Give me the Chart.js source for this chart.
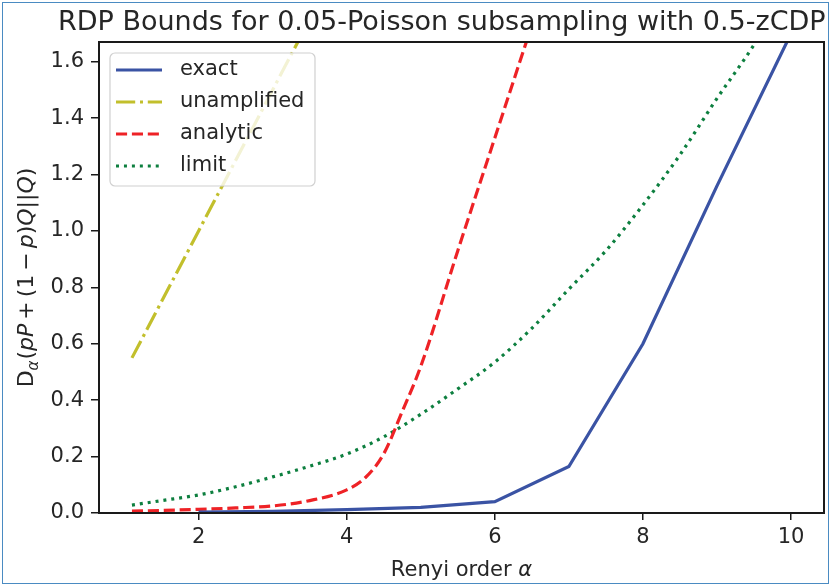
<!DOCTYPE html>
<html>
<head>
<meta charset="utf-8">
<script src="https://cdn.jsdelivr.net/npm/chart.js@4/dist/chart.umd.min.js"></script>
<style>
  html, body { margin: 0; padding: 0; background: #fff; }
  #wrap { width: 831px; height: 586px; }
</style>
</head>
<body>
<div id="wrap"><canvas id="rdpChart" width="831" height="586"></canvas></div>
<script>
// values
var xTicks = [2, 4, 6, 8, 10];
var yTicks = [0, 0.2, 0.4, 0.6, 0.8, 1.0, 1.2, 1.4, 1.6];

var exactAlpha = [2, 3, 4, 5, 6, 7, 8, 9, 10];
var exactVals = [0.003, 0.006, 0.012, 0.02, 0.04, 0.165, 0.6, 1.16, 1.7];

var unampAlpha = [1.1, 2, 3, 4];
var unampVals = [0.55, 1.0, 1.5, 2.0];

var analyticAlpha = [1.1, 1.5, 2, 2.5, 3, 3.5, 4, 4.25, 4.5, 4.75, 5, 5.5, 6, 6.5];
var analyticVals = [0.007, 0.009, 0.013, 0.018, 0.025, 0.044, 0.082, 0.125, 0.21, 0.36, 0.52, 0.93, 1.33, 1.73];

var limitAlpha = [1.1, 1.5, 2, 2.5, 3, 3.5, 4, 4.5, 5, 5.5, 6, 6.5, 7, 7.5, 8, 8.5, 9, 9.5, 10];
var limitVals = [0.028, 0.044, 0.064, 0.093, 0.128, 0.166, 0.209, 0.27, 0.35, 0.44, 0.535, 0.655, 0.794, 0.93, 1.092, 1.27, 1.47, 1.66, 1.88];

function pts(xs, ys) {
  return xs.map(function (x, i) { return { x: x, y: ys[i] }; });
}

var FONT = "'DejaVu Sans', sans-serif";
var INK = "#262626";

var series = [
  { label: "exact", xs: exactAlpha, ys: exactVals, color: "#3a53a4", dash: [], smooth: false },
  { label: "unamplified", xs: unampAlpha, ys: unampVals, color: "#c2bf2c", dash: [19.2, 4.8, 3, 4.8], smooth: false },
  { label: "analytic", xs: analyticAlpha, ys: analyticVals, color: "#ee2226", dash: [11.1, 4.8], smooth: true },
  { label: "limit", xs: limitAlpha, ys: limitVals, color: "#0d7f3f", dash: [3, 4.95], smooth: true },
];

var datasets = series.map(function (s) {
  return {
    label: s.label,
    data: pts(s.xs, s.ys),
    borderColor: s.color,
    backgroundColor: s.color,
    borderWidth: 3.2,
    borderDash: s.dash,
    pointRadius: 0,
    fill: false,
    clip: 0,
    tension: 0,
    cubicInterpolationMode: s.smooth ? "monotone" : "default",
  };
});

var decor = {
  id: "decor",
  afterDraw: function (chart) {
    var ctx = chart.ctx;
    var a = chart.chartArea;
    ctx.save();

    // frame around plot
    ctx.strokeStyle = "#1a1a1a";
    ctx.lineWidth = 2;
    ctx.setLineDash([]);
    ctx.strokeRect(a.left, a.top, a.right - a.left, a.bottom - a.top);

    // title
    ctx.fillStyle = INK;
    ctx.font = "27px " + FONT;
    ctx.textAlign = "left";
    ctx.textBaseline = "alphabetic";
    ctx.fillText("RDP Bounds for 0.05-Poisson subsampling with 0.5-zCDP", 58, 30);

    // x label
    var t1 = "Renyi order ";
    ctx.font = "21px " + FONT;
    var w1 = ctx.measureText(t1).width;
    ctx.font = "italic 21px " + FONT;
    var w2 = ctx.measureText("\u03b1").width;
    var cx = (a.left + a.right) / 2;
    var x0 = cx - (w1 + w2) / 2;
    ctx.font = "21px " + FONT;
    ctx.fillText(t1, x0, 576);
    ctx.font = "italic 21px " + FONT;
    ctx.fillText("\u03b1", x0 + w1, 576);

    // y label (mathtext-like): [text, style, baseline shift, size, extra gap after]
    var parts = [
      ["D", "", 0, 22, 0], ["\u03b1", "italic ", 5, 15, 1], ["(", "", 0, 22, 0], ["pP", "italic ", 0, 22, 4],
      ["+", "", 0, 22, 4], ["(1", "", 0, 22, 4], ["\u2212", "", 0, 22, 4], ["p", "italic ", 0, 22, 0],
      [")", "", 0, 22, 0], ["Q", "italic ", 0, 22, 0], ["||", "", 0, 22, 0], ["Q", "italic ", 0, 22, 0], [")", "", 0, 22, 0]
    ];
    var total = 0;
    parts.forEach(function (p) {
      ctx.font = p[1] + p[3] + "px " + FONT;
      p.push(ctx.measureText(p[0]).width + p[4]);
      total += p[5];
    });
    ctx.translate(33, (a.top + a.bottom) / 2);
    ctx.rotate(-Math.PI / 2);
    var px = -total / 2;
    parts.forEach(function (p) {
      ctx.font = p[1] + p[3] + "px " + FONT;
      ctx.fillText(p[0], px, p[2]);
      px += p[5];
    });
    ctx.setTransform(1, 0, 0, 1, 0, 0);

    // legend
    var lx = 110, ly = 53, lw = 205, lh = 133, r = 5;
    ctx.beginPath();
    ctx.moveTo(lx + r, ly);
    ctx.arcTo(lx + lw, ly, lx + lw, ly + lh, r);
    ctx.arcTo(lx + lw, ly + lh, lx, ly + lh, r);
    ctx.arcTo(lx, ly + lh, lx, ly, r);
    ctx.arcTo(lx, ly, lx + lw, ly, r);
    ctx.closePath();
    ctx.fillStyle = "rgba(255,255,255,0.8)";
    ctx.fill();
    ctx.strokeStyle = "#d0d0d0";
    ctx.lineWidth = 1.2;
    ctx.stroke();
    series.forEach(function (s, i) {
      var y = 70 + i * 32;
      ctx.beginPath();
      ctx.strokeStyle = s.color;
      ctx.lineWidth = 3.2;
      ctx.setLineDash(s.dash);
      ctx.moveTo(116, y);
      ctx.lineTo(162, y);
      ctx.stroke();
      ctx.setLineDash([]);
      ctx.fillStyle = INK;
      ctx.font = "21px " + FONT;
      ctx.textBaseline = "middle";
      ctx.fillText(s.label, 180, y);
    });

    // outer image border
    ctx.strokeStyle = "#4a8bc2";
    ctx.lineWidth = 1;
    ctx.strokeRect(2.5, 2.5, 826, 581);
    ctx.restore();
  }
};

var ctx = document.getElementById("rdpChart").getContext("2d");
var rdpChart = new Chart(ctx, {
  type: "line",
  data: { datasets: datasets },
  options: {
    responsive: false,
    animation: false,
    layout: { padding: { top: 42, right: 7, left: 0, bottom: 0 } },
    scales: {
      x: {
        type: "linear",
        min: 0.655,
        max: 10.445,
        afterBuildTicks: function (scale) {
          scale.ticks = xTicks.map(function (v) { return { value: v }; });
        },
        afterFit: function (scale) { scale.height = 73; },
        grid: { display: true, drawOnChartArea: false, drawTicks: true, tickLength: 7, color: "#1a1a1a", lineWidth: 1.5 },
        border: { display: false },
        ticks: {
          color: INK,
          font: { family: FONT, size: 21 },
          padding: 5,
          maxRotation: 0,
          callback: function (v) { return String(v); }
        }
      },
      y: {
        type: "linear",
        min: 0,
        max: 1.67,
        afterBuildTicks: function (scale) {
          scale.ticks = yTicks.map(function (v) { return { value: v }; });
        },
        afterFit: function (scale) { scale.width = 99; },
        grid: { display: true, drawOnChartArea: false, drawTicks: true, tickLength: 8, color: "#1a1a1a", lineWidth: 1.5 },
        border: { display: false },
        ticks: {
          color: INK,
          font: { family: FONT, size: 21 },
          padding: 7,
          callback: function (v) { return v.toFixed(1); }
        }
      }
    },
    plugins: {
      legend: { display: false },
      title: { display: false },
      tooltip: { enabled: false }
    }
  },
  plugins: [decor]
});
</script>
</body>
</html>
